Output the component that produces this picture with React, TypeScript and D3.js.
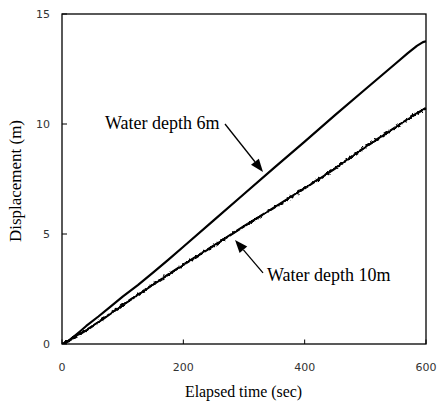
import React from 'react';
import * as d3 from 'd3';

const timeTicks = [0, 200, 400, 600];
const dispTicks = [0, 5, 10, 15];

const time6m = [0, 10, 20, 30, 40, 60, 80, 100, 125, 150, 175, 200, 250, 300, 350, 400, 450, 500, 550, 570, 585, 595, 600];
const disp6m = [0, 0.13, 0.35, 0.58, 0.82, 1.25, 1.7, 2.15, 2.68, 3.24, 3.82, 4.42, 5.62, 6.82, 8.02, 9.2, 10.4, 11.58, 12.75, 13.22, 13.55, 13.72, 13.76];

const time10m = [0, 10, 20, 40, 60, 80, 100, 150, 200, 250, 300, 350, 400, 450, 500, 550, 580, 600];
const disp10m = [0, 0.12, 0.3, 0.63, 0.99, 1.38, 1.77, 2.7, 3.6, 4.47, 5.35, 6.2, 7.08, 7.98, 8.95, 9.85, 10.4, 10.73];

const W = 438;
const H = 403;
const M = { left: 62, right: 12, top: 14, bottom: 59 };

export default function App() {
  const x = d3.scaleLinear().domain([0, 600]).range([M.left, W - M.right]);
  const y = d3.scaleLinear().domain([0, 15]).range([H - M.bottom, M.top]);
  const line = d3
    .line<[number, number]>()
    .x((d) => x(d[0]))
    .y((d) => y(d[1]));
  const d6 = line(time6m.map((t, i) => [t, disp6m[i]] as [number, number])) || '';
  const d10 = line(time10m.map((t, i) => [t, disp10m[i]] as [number, number])) || '';

  const x0 = x(0), x1 = x(600), y0 = y(0), y1 = y(15);
  const serif = "'Liberation Serif', 'Times New Roman', serif";
  const sans = "'DejaVu Sans', sans-serif";

  // annotation anchor points in data space
  const a6 = { tx: 70.9, ty: 9.77, fx: 268.7, fy: 10.0, px: 331.3, py: 7.82 };
  const a10 = { tx: 337.9, ty: 2.86, fx: 331.3, fy: 3.23, px: 285.2, py: 4.73 };

  const arrow = (fx: number, fy: number, px: number, py: number) => {
    const X1 = x(fx), Y1 = y(fy), X2 = x(px), Y2 = y(py);
    const ang = Math.atan2(Y2 - Y1, X2 - X1);
    const len = 13, half = 5;
    const bx = X2 - len * Math.cos(ang), by = Y2 - len * Math.sin(ang);
    const p1 = [bx + half * Math.sin(ang), by - half * Math.cos(ang)];
    const p2 = [bx - half * Math.sin(ang), by + half * Math.cos(ang)];
    return (
      <g>
        <line x1={X1} y1={Y1} x2={bx} y2={by} stroke="#000" strokeWidth={1.3} />
        <polygon points={`${X2},${Y2} ${p1[0]},${p1[1]} ${p2[0]},${p2[1]}`} fill="#000" />
      </g>
    );
  };

  return (
    <svg width={W} height={H} style={{ position: 'absolute', left: 0, top: 0, background: '#fff' }}>
      <defs>
        <filter id="jag" filterUnits="userSpaceOnUse" x={0} y={0} width={W} height={H}>
          <feTurbulence type="fractalNoise" baseFrequency="0.35" numOctaves={1} seed={5} result="n" />
          <feDisplacementMap in="SourceGraphic" in2="n" scale={4} xChannelSelector="R" yChannelSelector="G" />
        </filter>
        <filter id="wave" filterUnits="userSpaceOnUse" x={0} y={0} width={W} height={H}>
          <feTurbulence type="fractalNoise" baseFrequency="0.08" numOctaves={1} seed={2} result="n" />
          <feDisplacementMap in="SourceGraphic" in2="n" scale={2} xChannelSelector="R" yChannelSelector="G" />
        </filter>
        <clipPath id="plot">
          <rect x={x0} y={y1 - 2} width={x1 - x0 + 1} height={y0 - y1 + 2} />
        </clipPath>
      </defs>
      <rect x={0} y={0} width={W} height={H} fill="#fff" />

      {/* ticks (inward) */}
      {timeTicks.map((t) => (
        <line key={'xt' + t} x1={x(t)} x2={x(t)} y1={y0} y2={y0 - 4.5} stroke="#000" strokeWidth={1} />
      ))}
      {dispTicks.map((v) => (
        <line key={'yt' + v} x1={x0} x2={x0 + 5} y1={y(v)} y2={y(v)} stroke="#000" strokeWidth={1} />
      ))}

      {/* data lines */}
      <g clipPath="url(#plot)">
        <path d={d6} fill="none" stroke="#000" strokeWidth={2.2} strokeLinejoin="round" filter="url(#wave)" />
        <path d={d10} fill="none" stroke="#000" strokeWidth={1.5} strokeLinejoin="round" />
        <path d={d10} fill="none" stroke="#000" strokeWidth={2.4} strokeLinejoin="round" filter="url(#jag)" />
      </g>

      {/* frame */}
      <rect x={x0} y={y1} width={x1 - x0} height={y0 - y1} fill="none" stroke="#000" strokeWidth={1.3} />

      {/* tick labels */}
      {timeTicks.map((t) => (
        <text key={'xl' + t} x={x(t)} y={371} textAnchor="middle" fontFamily={sans} fontSize={11} fill="#333">
          {t}
        </text>
      ))}
      {dispTicks.map((v) => (
        <text key={'yl' + v} x={50} y={y(v) + 4} textAnchor="end" fontFamily={sans} fontSize={11} fill="#333">
          {v}
        </text>
      ))}

      {/* axis titles */}
      <text x={243.5} y={397} textAnchor="middle" fontFamily={serif} fontSize={16} fill="#000" textLength={117} lengthAdjust="spacingAndGlyphs">
        Elapsed time (sec)
      </text>
      <text
        transform={`translate(21, 181) rotate(-90)`}
        textAnchor="middle"
        fontFamily={serif}
        fontSize={17}
        fill="#000"
        textLength={122}
        lengthAdjust="spacingAndGlyphs"
      >
        Displacement (m)
      </text>

      {/* annotations */}
      <text x={x(a6.tx)} y={y(a6.ty)} fontFamily={serif} fontSize={18} fill="#000">Water depth 6m</text>
      {arrow(a6.fx, a6.fy, a6.px, a6.py)}
      <text x={x(a10.tx)} y={y(a10.ty)} fontFamily={serif} fontSize={18} fill="#000">Water depth 10m</text>
      {arrow(a10.fx, a10.fy, a10.px, a10.py)}
    </svg>
  );
}
